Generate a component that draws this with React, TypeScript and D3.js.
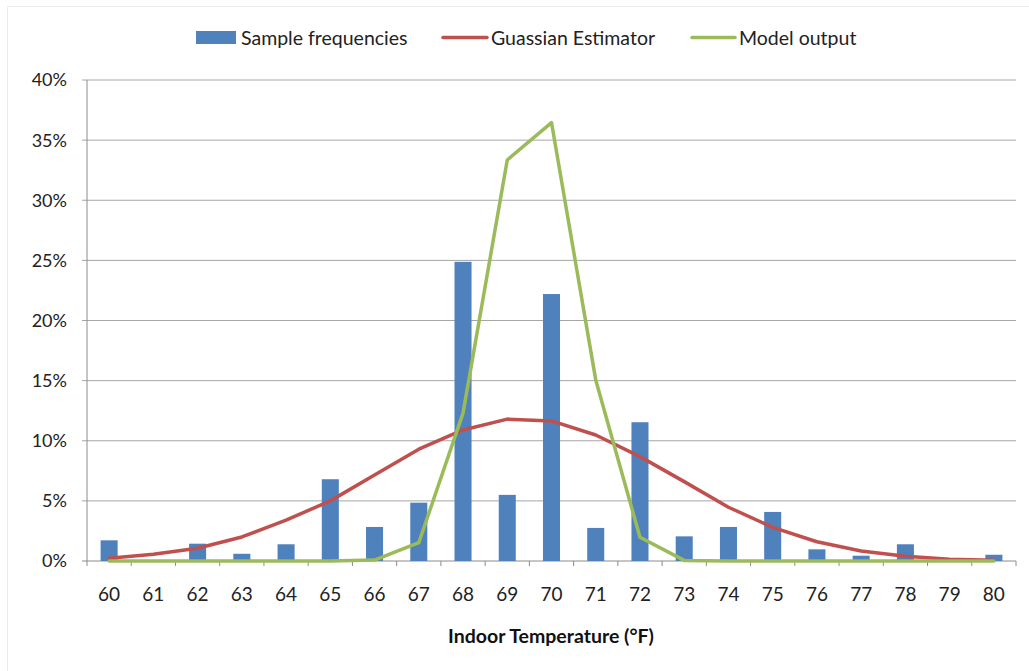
import * as d3 from "d3";
import React from "react";

const temps = [60, 61, 62, 63, 64, 65, 66, 67, 68, 69, 70, 71, 72, 73, 74, 75, 76, 77, 78, 79, 80];
const sampleFreq = [1.72, 0, 1.44, 0.6, 1.39, 6.8, 2.83, 4.85, 24.88, 5.5, 22.2, 2.75, 11.54, 2.05, 2.83, 4.08, 0.97, 0.44, 1.39, 0, 0.52];
const gaussian = [0.22, 0.56, 1.06, 2.0, 3.4, 5.0, 7.15, 9.3, 10.9, 11.8, 11.65, 10.48, 8.68, 6.6, 4.47, 2.8, 1.6, 0.83, 0.39, 0.14, 0.06];
const model = [0, 0, 0, 0, 0, 0, 0.08, 1.52, 12.3, 33.35, 36.46, 15.06, 1.97, 0.05, 0, 0, 0, 0, 0, 0, 0];
const yTicks = [0, 5, 10, 15, 20, 25, 30, 35, 40];

const W = 1029;
const H = 671;
const left = 87;
const right = 1016;
const top = 80;
const bottom = 561;
const font = "Lato, 'Open Sans', sans-serif";

const App = () => {
  const x = d3.scaleBand<number>().domain(temps).range([left, right]).paddingInner(0).paddingOuter(0);
  const y = d3.scaleLinear().domain([0, 40]).range([bottom, top]);
  const barW = x.bandwidth() * 0.385;
  const cx = (t: number) => x(t)! + x.bandwidth() / 2;

  const lineGen = d3
    .line<number>()
    .x((_, i) => cx(temps[i]))
    .y((d) => y(d));

  return (
    <svg width={W} height={H} style={{ position: "absolute", left: 0, top: 0, background: "#fff" }}>
      <path d={`M7.5,${H} V6.5 H${W}`} fill="none" stroke="#ececec" />
      {yTicks.map((t) => (
        <g key={t}>
          <line x1={82} x2={right} y1={y(t)} y2={y(t)} stroke={t === 0 ? "#8c8c8c" : "#a6a6a6"} strokeWidth={1} />
          <text x={67} y={y(t)} dy="0.36em" textAnchor="end" fontFamily={font} fontSize={18} fill="#222">
            {t}%
          </text>
        </g>
      ))}
      <line x1={left} x2={left} y1={top} y2={bottom} stroke="#8c8c8c" />
      {temps.map((t) => (
        <line key={`tk${t}`} x1={x(t)!} x2={x(t)!} y1={bottom} y2={bottom + 5} stroke="#8c8c8c" />
      ))}
      <line x1={right} x2={right} y1={bottom} y2={bottom + 5} stroke="#8c8c8c" />
      {temps.map((t) => (
        <text key={`lb${t}`} x={cx(t)} y={601} textAnchor="middle" fontFamily={font} fontSize={19} fill="#222">
          {t}
        </text>
      ))}
      {temps.map((t, i) => (
        <rect
          key={`b${t}`}
          x={cx(t) - barW / 2}
          y={y(sampleFreq[i])}
          width={barW}
          height={bottom - y(sampleFreq[i])}
          fill="#4f81bd"
        />
      ))}
      <path d={lineGen(gaussian)!} fill="none" stroke="#c0504d" strokeWidth={3.5} strokeLinejoin="round" strokeLinecap="round" />
      <path d={lineGen(model)!} fill="none" stroke="#9bbb59" strokeWidth={3.5} strokeLinejoin="round" strokeLinecap="round" />
      <text x={551} y={643} textAnchor="middle" fontFamily={font} fontWeight="bold" fontSize={19.5} fill="#111">
        Indoor Temperature (°F)
      </text>
      <g fontFamily={font} fontSize={19.5} fill="#222">
        <rect x={196} y={31} width={40} height={13} fill="#4f81bd" />
        <text x={241} y={37.5} dy="0.36em">Sample frequencies</text>
        <line x1={443} x2={487} y1={37.5} y2={37.5} stroke="#c0504d" strokeWidth={3.5} strokeLinecap="round" />
        <text x={491} y={37.5} dy="0.36em">Guassian Estimator</text>
        <line x1={692} x2={735} y1={37.5} y2={37.5} stroke="#9bbb59" strokeWidth={3.5} strokeLinecap="round" />
        <text x={739} y={37.5} dy="0.36em">Model output</text>
      </g>
    </svg>
  );
};

export default App;
